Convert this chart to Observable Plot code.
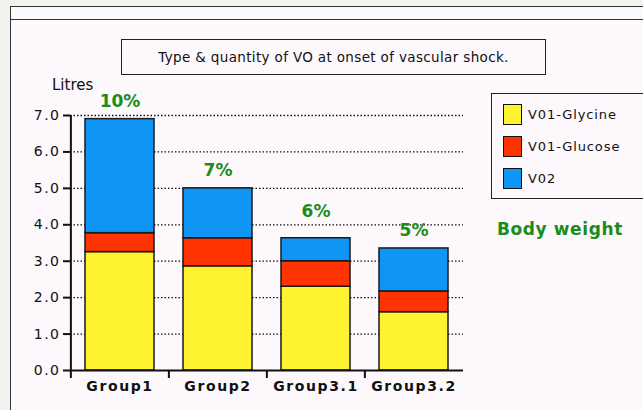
<!DOCTYPE html>
<html><head><meta charset="utf-8">
<script src="https://cdn.jsdelivr.net/npm/d3@7"></script>
<script src="https://cdn.jsdelivr.net/npm/@observablehq/plot@0.6"></script>
<style>
body{margin:0;background:#f2f2ee;width:643px;height:410px;overflow:hidden;position:relative;font-family:"DejaVu Sans",sans-serif}
#panel{position:absolute;left:10px;top:6px;width:640px;height:410px;background:#fcf8fc;border-left:1.5px solid #333;border-top:1.5px solid #333}
#rule2{position:absolute;left:10px;top:19px;width:640px;height:0;border-top:1.5px solid #333}
#chart{position:absolute;left:0;top:0}
#title{position:absolute;left:121px;top:39px;width:425px;height:36px;box-sizing:border-box;border:1.5px solid #222;font-size:13.5px;letter-spacing:0.35px;display:flex;align-items:center;justify-content:center;color:#111}
#litres{position:absolute;left:52px;top:76px;font-size:15px;color:#111}
#legend{position:absolute;left:491px;top:93px;width:160px;height:106px;box-sizing:border-box;border:1.5px solid #222}
.li{position:absolute;left:11px;display:flex;align-items:center;font-size:13px;letter-spacing:0.9px;color:#111}
.sw{width:19px;height:21px;border:1.5px solid #111;margin-right:6px;box-sizing:border-box}
#bw{position:absolute;left:497px;top:219px;font-size:17px;font-weight:bold;color:#1a8c1a;letter-spacing:0.6px}
g[aria-label="x-axis tick label"] text{letter-spacing:1.6px}
g[aria-label="y-axis tick label"] text{letter-spacing:1.5px}
</style></head>
<body>
<div id="panel"></div><div id="rule2"></div>
<div id="chart"></div>
<div id="title"></div>
<div id="litres"></div>
<div id="legend"></div>
<div id="bw"></div>
<script>
const groups = ["Group1","Group2","Group3.1","Group3.2"];
const series = ["V01-Glycine","V01-Glucose","V02"];
const glycine = [3.25, 2.86, 2.30, 1.60];
const glucose = [0.52, 0.77, 0.70, 0.57];
const vo2 = [3.13, 1.37, 0.63, 1.18];
const bodyWeightPct = ["10%","7%","6%","5%"];
const colors = ["#fff22e","#ff3300","#0f96f5"];
const yTicks = [0,1,2,3,4,5,6,7];
const titleText = "Type & quantity of VO at onset of vascular shock.";
const yLabel = "Litres";
const noteText = "Body weight";

const values = [glycine, glucose, vo2];
const rows = [];
series.forEach((s, si) => groups.forEach((g, gi) => rows.push({group: g, series: s, value: values[si][gi]})));
const totals = groups.map((g, gi) => ({group: g, total: glycine[gi] + glucose[gi] + vo2[gi], pct: bodyWeightPct[gi]}));

const green = "#1a8c1a";
const plotLeft = 70, plotRight = 463;
const half = (plotRight - plotLeft) / groups.length / 2;
const chart = Plot.plot({
  width: 643, height: 410,
  marginLeft: plotLeft, marginRight: 643 - plotRight, marginTop: 115, marginBottom: 40,
  style: {background: "transparent", fontFamily: "DejaVu Sans, sans-serif", color: "#111"},
  x: {domain: groups, paddingInner: 0.3, paddingOuter: 0.15, label: null},
  y: {domain: [0, 7], label: null},
  color: {domain: series, range: colors},
  marks: [
    Plot.gridY(yTicks.slice(1), {stroke: "#111", strokeOpacity: 1, strokeWidth: 1.3, strokeDasharray: "1.5,2"}),
    Plot.barY(rows, Plot.stackY({x: "group", y: "value", fill: "series", order: series, stroke: "#1a1a1a", strokeWidth: 1.5})),
    Plot.ruleY([0], {stroke: "#111", strokeWidth: 2}),
    Plot.ruleX(groups.slice(0, 1), {x: d => d, y1: 0, y2: 7, dx: -half, stroke: "#111", strokeWidth: 2}),
    Plot.ruleX(groups, {x: d => d, y1: 0, y2: -0.22, dx: -half, stroke: "#111", strokeWidth: 2}),
    Plot.axisY(yTicks, {tickFormat: d3.format(".1f"), tickSize: 7, tickPadding: 3, fontSize: 14, label: null, strokeWidth: 2}),
    Plot.axisX({tickSize: 0, tickPadding: 11, fontSize: 14, fontWeight: "bold", label: null}),
    Plot.text(totals.filter(d => d.pct !== "6%"), {x: "group", y: "total", text: "pct", dy: -18, fill: green, fontWeight: "bold", fontSize: 17}),
    Plot.text(totals.filter(d => d.pct === "6%"), {x: "group", y: "total", text: "pct", dy: -27, fill: green, fontWeight: "bold", fontSize: 17})
  ]
});
document.getElementById("chart").append(chart);
document.getElementById("title").textContent = titleText;
document.getElementById("litres").textContent = yLabel;
document.getElementById("bw").textContent = noteText;
const leg = document.getElementById("legend");
series.forEach((s, i) => {
  const d = document.createElement("div");
  d.className = "li";
  d.style.top = (10 + i * 32) + "px";
  const sw = document.createElement("div");
  sw.className = "sw"; sw.style.background = colors[i];
  const t = document.createElement("span"); t.textContent = s;
  d.append(sw, t); leg.append(d);
});
</script>
</body></html>
